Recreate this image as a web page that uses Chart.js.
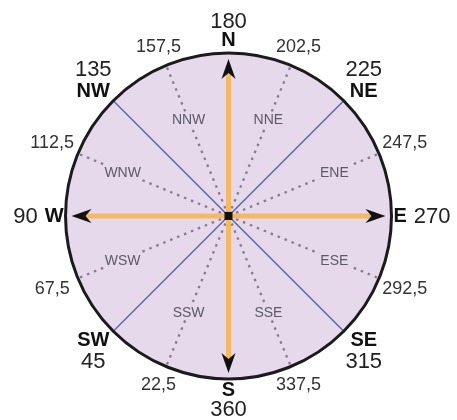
<!DOCTYPE html>
<html lang="en">
<head>
    <meta charset="UTF-8">
    <title>Compass rose</title>
    <script src="https://cdn.jsdelivr.net/npm/chart.js"></script>
    <style>
        body {
            margin: 0;
            background: #ffffff;
        }
        .chart-container {
            position: relative;
            width: 457px;
            height: 420px;
        }
    </style>
</head>
<body>
    <div class="chart-container">
        <canvas id="compass"></canvas>
    </div>

    <script>
        // main directions and their degree values
        const majorNames = ['N', 'NE', 'E', 'SE', 'S', 'SW', 'W', 'NW'];
        const majorDegrees = [180, 225, 270, 315, 360, 45, 90, 135];
        const majorNumbers = ['180', '225', '270', '315', '360', '45', '90', '135'];

        // in-between directions
        const minorNames = ['NNE', 'ENE', 'ESE', 'SSE', 'SSW', 'WSW', 'WNW', 'NNW'];
        const minorDegrees = [202.5, 247.5, 292.5, 337.5, 22.5, 67.5, 112.5, 157.5];
        const minorNumbers = ['202,5', '247,5', '292,5', '337,5', '22,5', '67,5', '112,5', '157,5'];

        const FILL = '#e6d9ec';
        const ORANGE = '#f6b862';
        const BLUE = '#5f66ad';
        const DOTS = '#857b8d';

        // degree value -> unit vector (180 is up, clockwise)
        function dir(deg) {
            const b = (deg - 180) * Math.PI / 180;
            return { x: Math.sin(b), y: Math.cos(b) };
        }
        function seg(deg, r0, r1) {
            const u = dir(deg);
            return [{ x: u.x * r0, y: u.y * r0 }, { x: u.x * r1, y: u.y * r1 }];
        }

        const datasets = [];
        // orange axes (N, E, S, W)
        majorDegrees.forEach((d, i) => {
            if (majorNames[i].length !== 1) return;
            datasets.push({ data: seg(d, 0, 0.9), borderColor: ORANGE, borderWidth: 5, order: 1 });
        });
        // blue diagonals
        majorDegrees.forEach((d, i) => {
            if (majorNames[i].length !== 2) return;
            datasets.push({ data: seg(d, 0, 1), borderColor: BLUE, borderWidth: 1.5, order: 2 });
        });
        // dotted minor lines
        minorDegrees.forEach(d => {
            datasets.push({ data: seg(d, 0.05, 1), borderColor: DOTS, borderWidth: 2.3, borderDash: [2.5, 5], order: 3 });
        });
        datasets.forEach(ds => {
            ds.showLine = true;
            ds.pointRadius = 0;
            ds.borderCapStyle = 'butt';
        });

        const compassPlugin = {
            id: 'compass',
            beforeDatasetsDraw(chart) {
                const { ctx, scales: { x, y } } = chart;
                const cx = x.getPixelForValue(0), cy = y.getPixelForValue(0);
                const R = x.getPixelForValue(1) - cx;
                ctx.save();
                ctx.beginPath();
                ctx.arc(cx, cy, R, 0, Math.PI * 2);
                ctx.fillStyle = FILL;
                ctx.fill();
                ctx.restore();
            },
            afterDatasetsDraw(chart) {
                const { ctx, scales: { x, y } } = chart;
                const cx = x.getPixelForValue(0), cy = y.getPixelForValue(0);
                const R = x.getPixelForValue(1) - cx;
                ctx.save();

                // inner labels cut the dotted lines
                ctx.font = '14px "Liberation Sans", Arial, sans-serif';
                ctx.textAlign = 'center';
                ctx.textBaseline = 'middle';
                minorNames.forEach((name, i) => {
                    const u = dir(minorDegrees[i]);
                    const r = 97 + 19 * Math.abs(u.x);
                    const px = cx + u.x * r, py = cy - u.y * r;
                    const w = ctx.measureText(name).width;
                    ctx.fillStyle = FILL;
                    ctx.fillRect(px - w / 2 - 2, py - 7, w + 4, 14);
                    ctx.fillStyle = '#5e5868';
                    ctx.fillText(name, px, py + 1);
                });

                // rim
                ctx.beginPath();
                ctx.arc(cx, cy, R, 0, Math.PI * 2);
                ctx.lineWidth = 3;
                ctx.strokeStyle = '#1b1b1b';
                ctx.stroke();

                // arrowheads on N, E, S, W
                ctx.fillStyle = '#111111';
                majorDegrees.forEach((d, i) => {
                    if (majorNames[i].length !== 1) return;
                    const u = dir(d);
                    const ux = u.x, uy = -u.y;
                    const tip = R - 6;
                    const tx = cx + ux * tip, ty = cy + uy * tip;
                    const bx = cx + ux * (tip - 20), by = cy + uy * (tip - 20);
                    const nx = cx + ux * (tip - 14), ny = cy + uy * (tip - 14);
                    ctx.beginPath();
                    ctx.moveTo(tx, ty);
                    ctx.lineTo(bx - uy * 7, by + ux * 7);
                    ctx.lineTo(nx, ny);
                    ctx.lineTo(bx + uy * 7, by - ux * 7);
                    ctx.closePath();
                    ctx.fill();
                });

                // centre mark
                ctx.fillRect(cx - 4, cy - 4, 8, 8);

                // minor degree values outside the rim
                ctx.font = '18px "Liberation Sans", Arial, sans-serif';
                ctx.fillStyle = '#333333';
                minorNumbers.forEach((txt, i) => {
                    const u = dir(minorDegrees[i]);
                    const r = R + 14 + 15 * Math.abs(u.x);
                    ctx.fillText(txt, cx + u.x * r, cy - u.y * r);
                });

                // main directions with their values
                const nameFont = 'bold 20px "Liberation Sans", Arial, sans-serif';
                const numFont = '22px "Liberation Sans", Arial, sans-serif';
                majorNames.forEach((name, i) => {
                    const u = dir(majorDegrees[i]);
                    const px = cx + u.x * R, py = cy - u.y * R;
                    const num = majorNumbers[i];
                    const sx = Math.sign(Math.round(u.x * 100));
                    const sy = Math.sign(Math.round(-u.y * 100));
                    if (sy === 0) {
                        // E and W sit on one line
                        ctx.font = nameFont;
                        const wn = ctx.measureText(name).width;
                        ctx.textAlign = sx > 0 ? 'left' : 'right';
                        ctx.fillStyle = '#111111';
                        ctx.fillText(name, px + sx * 2, py + 1);
                        ctx.font = numFont;
                        ctx.fillStyle = '#222222';
                        ctx.fillText(num, px + sx * (wn + 9), py + 1);
                        return;
                    }
                    const bx = px + sx * 20;
                    const off = sx === 0 ? 12 : 9;
                    ctx.textAlign = 'center';
                    ctx.font = nameFont;
                    ctx.fillStyle = '#111111';
                    ctx.fillText(name, bx, py + sy * off);
                    ctx.font = numFont;
                    ctx.fillStyle = '#222222';
                    ctx.fillText(num, bx, py + sy * 31);
                });
                ctx.restore();
            }
        };

        new Chart(document.getElementById('compass').getContext('2d'), {
            type: 'scatter',
            data: { datasets: datasets },
            options: {
                responsive: true,
                maintainAspectRatio: false,
                animation: false,
                layout: { padding: 0 },
                plugins: {
                    legend: { display: false },
                    tooltip: { enabled: false }
                },
                scales: {
                    x: { type: 'linear', min: -1.402, max: 1.402, display: false },
                    y: { type: 'linear', min: -1.252, max: 1.325, display: false }
                }
            },
            plugins: [compassPlugin]
        });
    </script>
</body>
</html>
